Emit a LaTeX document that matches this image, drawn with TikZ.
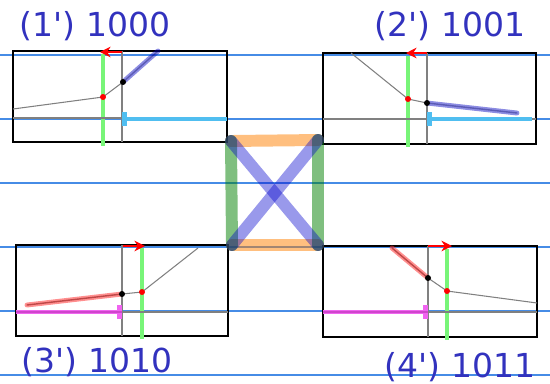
\documentclass[tikz,border=0pt]{standalone}
\usepackage{fontspec}
\setsansfont{DejaVu Sans}
\usetikzlibrary{arrows.meta}
\definecolor{guideblue}{RGB}{70,140,230}
\definecolor{labelblue}{RGB}{50,50,190}
\definecolor{barcyan}{RGB}{80,190,240}
\definecolor{bargreen}{RGB}{120,245,120}
\definecolor{barpink}{RGB}{240,100,240}
\begin{document}
\begin{tikzpicture}[x=0.02cm, y=-0.02cm,
  guide/.style={draw=guideblue, line width=0.6pt},
  frame/.style={draw=black, line width=1.2pt},
  axisline/.style={draw=gray, line width=0.6pt},
  greenbar/.style={draw=bargreen, line width=2.8pt},
  cyanbar/.style={draw=barcyan, line width=2.8pt, {Bar[width=8pt]}-},
  pinkbar/.style={draw=barpink, line width=2.8pt, -{Bar[width=8pt]},
    postaction={draw=purple!70!blue, line width=0.8pt, opacity=0.3, -}},
  bluestick/.style={draw=blue!75!black, opacity=0.45, line width=2.8pt, line cap=round,
    postaction={draw=blue!40!black, line width=0.8pt, opacity=0.35}},
  redstick/.style={draw=red!80, opacity=0.55, line width=2.8pt, line cap=round,
    postaction={draw=red!50!black, line width=0.8pt, opacity=0.5}},
  shift arrow/.style={draw=red, line width=1.4pt, -{Stealth[length=6pt,width=6pt]}},
  reddot/.style={fill=red},
  blackdot/.style={fill=black},
  link/.style={line width=6.8pt, line cap=round, opacity=0.5},
  every node/.style={text=labelblue, font=\sffamily\fontsize{18.8}{20}\selectfont}]
\useasboundingbox (0,0) rectangle (550,383);
% guide lines
\foreach \y in {55,119,183,247,311,375}
  \draw[guide] (0,\y) -- (550,\y);

% (1') 1000
\coordinate (r1) at (103,97);
\coordinate (k1) at (123,82);
\draw[frame] (13,51) rectangle (227,142);
\draw[greenbar] (103,54) -- (103,146);
\draw[axisline] (122,51) -- (122,142);
\draw[axisline] (13,118) -- (227,118);
\draw[axisline] (13,109) -- (r1) -- (k1);
\draw[bluestick] (k1) -- (158,51);
\draw[cyanbar] (122,119) -- (227,119);
\draw[shift arrow] (122,52) -- (100,52);
\fill[reddot] (r1) circle (3);
\fill[blackdot] (k1) circle (3);

% (2') 1001
\coordinate (r2) at (408,99);
\coordinate (k2) at (427,103);
\draw[frame] (323,53) rectangle (536,144);
\draw[greenbar] (408,56) -- (408,147);
\draw[axisline] (427,53) -- (427,144);
\draw[axisline] (323,119) -- (536,119);
\draw[axisline] (351,53) -- (r2) -- (k2);
\draw[bluestick] (k2) -- (517,113);
\draw[cyanbar] (427,119) -- (532,119);
\draw[shift arrow] (427,53) -- (406,53);
\fill[reddot] (r2) circle (3);
\fill[blackdot] (k2) circle (3);

% (3') 1010
\coordinate (r3) at (142,292);
\coordinate (k3) at (122,294);
\draw[frame] (16,245) rectangle (228,336);
\draw[greenbar] (142,248) -- (142,339);
\draw[axisline] (122,245) -- (122,336);
\draw[axisline] (16,312) -- (228,312);
\draw[axisline] (k3) -- (r3) -- (198,248);
\draw[redstick] (27,305) -- (k3);
\draw[pinkbar] (16,312) -- (122,312);
\draw[shift arrow] (123,246) -- (145,246);
\fill[reddot] (r3) circle (3);
\fill[blackdot] (k3) circle (3);

% (4') 1011
\coordinate (r4) at (447,291);
\coordinate (k4) at (428,278);
\draw[frame] (323,246) rectangle (537,337);
\draw[greenbar] (447,249) -- (447,340);
\draw[axisline] (428,246) -- (428,337);
\draw[axisline] (323,312) -- (537,312);
\draw[axisline] (k4) -- (r4) -- (537,303);
\draw[redstick] (392,248) -- (k4);
\draw[pinkbar] (323,312) -- (428,312);
\draw[shift arrow] (428,246) -- (452,246);
\fill[reddot] (r4) circle (3);
\fill[blackdot] (k4) circle (3);

% links between the four cases
\coordinate (c1) at (231,141);
\coordinate (c2) at (318,140);
\coordinate (c3) at (232,245);
\coordinate (c4) at (318,245);
\draw[link, orange] (c1) -- (c2);
\draw[link, orange] (c3) -- (c4);
\draw[link, green!50!black] (c1) -- (c3);
\draw[link, green!50!black] (c2) -- (c4);
\draw[link, blue!80!black, opacity=0.4] (c1) -- (c4);
\draw[link, blue!80!black, opacity=0.4] (c2) -- (c3);

\node (t1) at (95,26) {(1\textquotesingle) 1000};
\node (t2) at (450,26) {(2\textquotesingle) 1001};
\node (t3) at (97,362) {(3\textquotesingle) 1010};
\node (t4) at (460,367) {(4\textquotesingle) 1011};
\end{tikzpicture}
\end{document}
